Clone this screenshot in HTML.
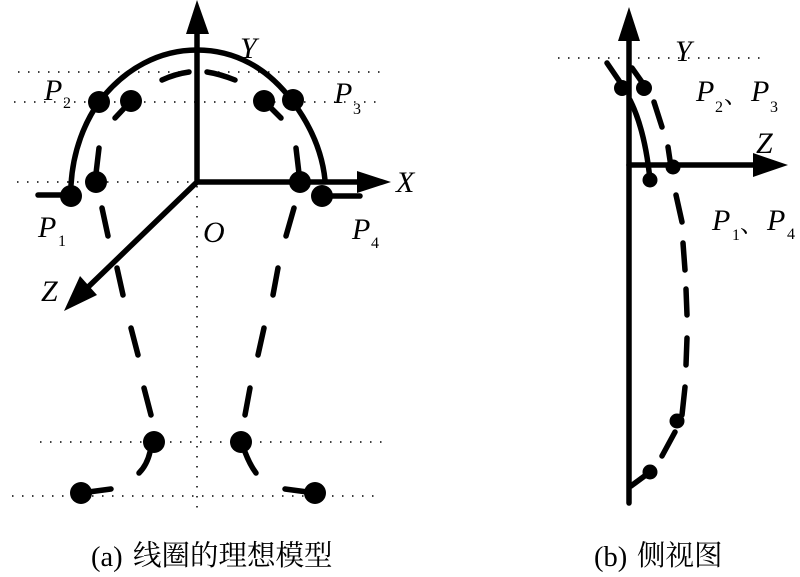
<!DOCTYPE html>
<html>
<head>
<meta charset="utf-8">
<style>
html,body{margin:0;padding:0;background:#fff;width:800px;height:577px;overflow:hidden}
svg{display:block;filter:blur(.35px)}
text{font-family:"Liberation Serif","Noto Serif CJK SC",serif;fill:#000}
.i{font-style:italic;font-size:30px}
.s{font-size:16px}
.c{font-size:28.5px}
</style>
</head>
<body>
<svg width="800" height="577" viewBox="0 0 800 577" xmlns="http://www.w3.org/2000/svg">
<g stroke="#000" stroke-width="1.5" stroke-dasharray="1.5 8.5" fill="none">
<path d="M18 72H385M14 102H380M17 182H197M40 442H386M12 496H380M197 186V516M558 58H767"/>
</g>
<g stroke="#000" stroke-width="5.5" fill="none" stroke-linecap="round">
<path d="M197 182V34M197 182H360M197 182L84 291"/>
<path d="M71 185C73 150 85 122 99 102C125 68 160 50 197 50C235 50 268 68 293 102C310 125 322 150 325 180"/>
<path d="M38 195H71M322 196H360M115 118L131 101M281 118L264 101M99 148L95 182M296 148L300 182"/>
<path d="M162 80Q175 74 189 72M207 72Q220 74 235 80"/>
<path d="M102 208L108 236M294 208L286 236M117 268L123 295M278 268L273 295M131 328L138 355M264 328L258 355M144 388L151 415M250 388L245 415"/>
<path d="M150 452Q147 465 139 473M245 452Q250 465 256 473M81 493L111 489M315 493L285 489"/>
<path d="M629 40V503"/>
<path d="M629 165H755"/>
<path d="M607 63L622 85M632 68L644 85M630 100Q645 130 650 180"/>
<path d="M654 102L662 127M668 147L671 167M676 195L682 222M683 243L685 270M686 289L687 315M687 338L686 365M685 387L682 415M675 432L662 456M650 472L631 486"/>
</g>
<g fill="#000">
<polygon points="197,0 186,34 209,34"/>
<polygon points="391,182 357,171 357,193"/>
<polygon points="64,311 80,276 97,295"/>
<polygon points="629,7 618,41 640,41"/>
<polygon points="788,165 753,153 753,177"/>
<circle cx="71" cy="196" r="11"/>
<circle cx="96" cy="182" r="11"/>
<circle cx="99" cy="102" r="11"/>
<circle cx="131" cy="101" r="11"/>
<circle cx="264" cy="101" r="11"/>
<circle cx="293" cy="100" r="11"/>
<circle cx="300" cy="182" r="11"/>
<circle cx="322" cy="196" r="11"/>
<circle cx="154" cy="442" r="11"/>
<circle cx="241" cy="442" r="11"/>
<circle cx="81" cy="493" r="11"/>
<circle cx="315" cy="493" r="11"/>
<circle cx="622" cy="88" r="8"/>
<circle cx="644" cy="88" r="8"/>
<circle cx="650" cy="180" r="7.5"/>
<circle cx="673" cy="167" r="7.5"/>
<circle cx="677" cy="421" r="7.5"/>
<circle cx="650" cy="472" r="7.5"/>
</g>
<text class="i" x="44" y="100">P</text><text class="s" x="63" y="108">2</text>
<text class="i" x="334" y="103">P</text><text class="s" x="353" y="114">3</text>
<text class="i" x="38" y="237">P</text><text class="s" x="58" y="246">1</text>
<text class="i" x="352" y="239">P</text><text class="s" x="371" y="248">4</text>
<text class="i" x="203" y="242">O</text>
<text class="i" x="396" y="192">X</text>
<text class="i" x="240" y="58">Y</text>
<text class="i" x="41" y="301">Z</text>
<text class="i" x="675" y="61">Y</text>
<text class="i" x="756" y="153">Z</text>
<text class="i" x="696" y="101">P</text><text class="s" x="715" y="112">2</text>
<text x="724" y="103" style="font-size:24px">、</text>
<text class="i" x="751" y="101">P</text><text class="s" x="770" y="112">3</text>
<text class="i" x="712" y="230">P</text><text class="s" x="732" y="240">1</text>
<text x="740" y="232" style="font-size:24px">、</text>
<text class="i" x="767" y="230">P</text><text class="s" x="787" y="239">4</text>
<text class="c" x="91" y="566">(a)</text>
<text class="c" x="133" y="565">线圈的理想模型</text>
<text class="c" x="594" y="566">(b)</text>
<text class="c" x="637" y="565">侧视图</text>
</svg>
</body>
</html>
